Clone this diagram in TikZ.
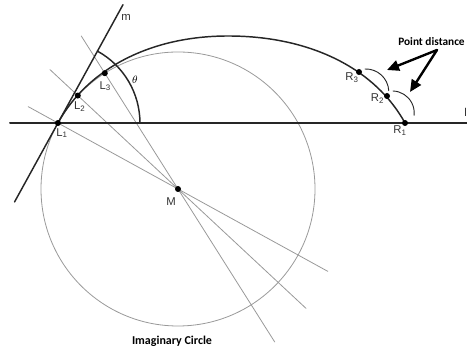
\documentclass[tikz,border=0pt]{standalone}
\usepackage{fontspec}
\setmainfont{Liberation Sans}
\newfontfamily\calfont{Carlito}
\usetikzlibrary{arrows.meta,positioning,calc}

\begin{document}
\begin{tikzpicture}[x=0.75pt, y=0.75pt, line join=round, line cap=round, font=\fontsize{8.5}{10}\selectfont,
		dot/.style={circle, fill=black, inner sep=0pt, minimum size=4.5pt},
		ray/.style={black!40, line width=0.6pt},
		dark/.style={black!85, line width=1.1pt},
		ptlabel/.style={inner sep=0pt, text=black!80},
		boldlabel/.style={font=\calfont\bfseries\fontsize{9}{10}\selectfont, inner sep=0pt}]
	\useasboundingbox (0,0) rectangle (467,352);
	% centre of the imaginary circle and the points on it
	\coordinate (M) at (178,163);
	\coordinate (L1) at ($(M)+(151.2:137)$);
	\coordinate (L2) at ($(M)+(137:137)$);
	\coordinate (L3) at ($(M)+(122.3:137)$);
	\coordinate (T) at (228,316);
	\coordinate (R1) at (405,229);
	\coordinate (R2) at (387,256);
	\coordinate (R3) at (359,280);
	\draw[ray] (M) circle (137);
	% rays through M
	\draw[ray] ($(M)+(151.2:171)$) coordinate (a1) -- ($(M)+(-28.8:171)$) coordinate (b1);
	\draw[ray] ($(M)+(137:175)$) coordinate (a2) -- ($(M)+(-43:175)$) coordinate (b2);
	\draw[ray] ($(M)+(122.3:181)$) coordinate (a3) -- ($(M)+(-57.7:181)$) coordinate (b3);
	% base line and tangent m
	\coordinate (left) at (10,229);
	\coordinate (right) at (467,229);
	\draw[black!85, line width=1.5pt] (left) -- (right);
	\draw[dark] ($(L1)+(241.2:90)$) coordinate (mlow) -- ($(L1)+(61.2:135)$) coordinate (mtop);
	\node[ptlabel] (mlab) at (126,335) {m};
	% the curve
	\draw[dark] (L1) .. controls ($(L1)+(61.2:60)$) and (148,316) .. (T)
		.. controls (313,316) and ($(R1)+(118.8:60)$) .. (R1);
	\draw[dark] ($(L1)+(82,0)$) arc[start angle=0, end angle=61.2, radius=82];
	\node (theta) at (135,272) {$\theta$};
	% points
	\foreach \p in {L1,L2,L3,M,R1,R2,R3} \node[dot] (d\p) at (\p) {};
	\node[ptlabel] (lL1) at ($(L1)+(4,-10)$) {L\textsubscript{1}};
	\node[ptlabel] (lL2) at ($(L2)+(2,-11)$) {L\textsubscript{2}};
	\node[ptlabel] (lL3) at ($(L3)+(0.5,-13)$) {L\textsubscript{3}};
	\node[ptlabel] (lM) at ($(M)+(-7,-13)$) {M};
	\node[ptlabel] (lR3) at ($(R3)+(-7,-6)$) {R\textsubscript{3}};
	\node[ptlabel] (lR2) at ($(R2)+(-9.5,-3)$) {R\textsubscript{2}};
	\node[ptlabel] (lR1) at ($(R1)+(-5,-8)$) {R\textsubscript{1}};
	\node[ptlabel, anchor=west] (lend) at (464,240) {l};
	% point distance marks
	\draw[black!85, line width=0.7pt] (365,283) arc[start angle=92, end angle=3, radius=23];
	\draw[black!85, line width=0.7pt] (393,261) arc[start angle=88, end angle=-6, radius=22];
	\node[boldlabel, anchor=west, font=\calfont\bfseries\fontsize{8.5}{10}\selectfont] (pd) at (398,310) {Point distance};
	\coordinate (pdfoot) at (437,302);
	\draw[-{Triangle[length=9pt, width=8pt]}, line width=1.8pt] (pdfoot) -- (387,282);
	\draw[-{Triangle[length=9pt, width=8pt]}, line width=1.8pt] (pdfoot) -- (410,260);
	\node[boldlabel] (ic) at (172,11) {Imaginary Circle};
\end{tikzpicture}
\end{document}
